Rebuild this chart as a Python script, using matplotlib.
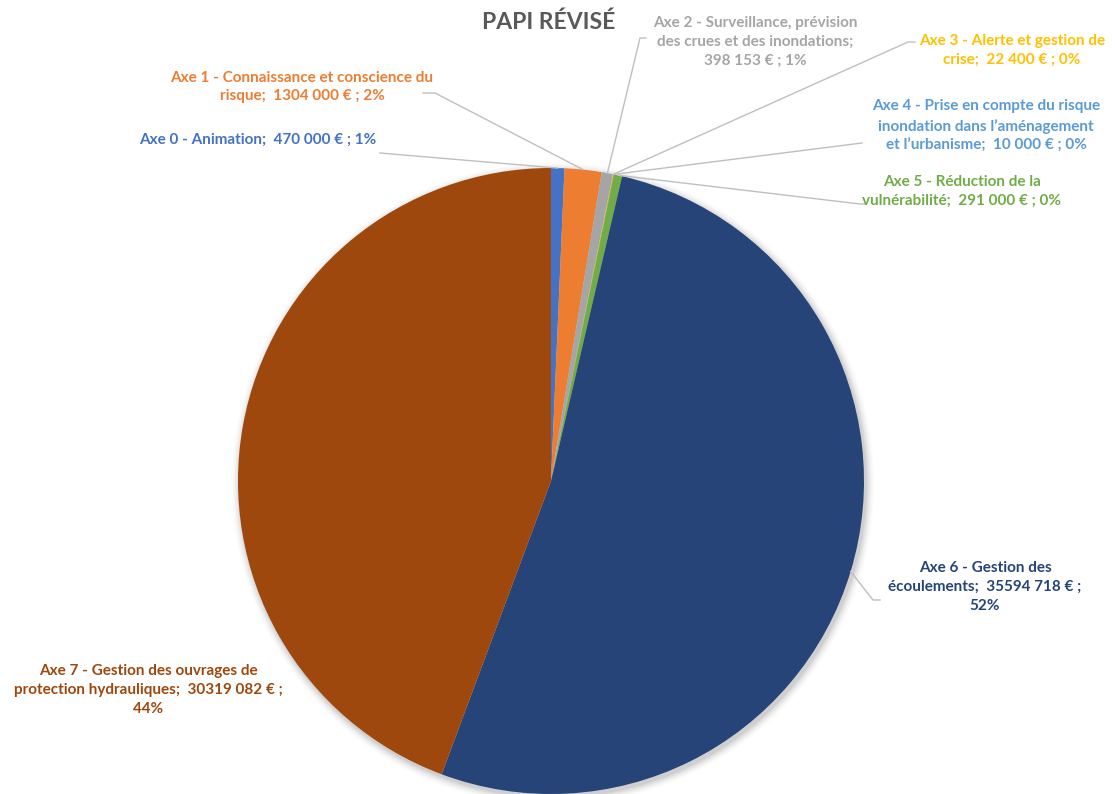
import matplotlib
matplotlib.use("Agg")
import matplotlib.pyplot as plt
import numpy as np

labels = [
    "Axe 0 - Animation;  470 000 € ; 1%",
    "Axe 1 - Connaissance et conscience du\nrisque;  1304 000 € ; 2%",
    "Axe 2 - Surveillance, prévision\ndes crues et des inondations;\n398 153 € ; 1%",
    "Axe 3 - Alerte et gestion de\ncrise;  22 400 € ; 0%",
    "Axe 4 - Prise en compte du risque\ninondation dans l’aménagement\net l’urbanisme;  10 000 € ; 0%",
    "Axe 5 - Réduction de la\nvulnérabilité;  291 000 € ; 0%",
    "Axe 6 - Gestion des\nécoulements;  35594 718 € ;\n52%",
    "Axe 7 - Gestion des ouvrages de\nprotection hydrauliques;  30319 082 € ;\n44%",
]
values = [470000, 1304000, 398153, 22400, 10000, 291000, 35594718, 30319082]
colors = ["#4472C4", "#ED7D31", "#A5A5A5", "#FFC000", "#5B9BD5", "#70AD47", "#264478", "#9E480E"]
text_colors = ["#4472C4", "#ED7D31", "#A5A5A5", "#FFC000", "#5B9BD5", "#70AD47", "#264478", "#9E480E"]

W, H = 1115, 794
fig = plt.figure(figsize=(W / 100, H / 100), dpi=100)
ax = fig.add_axes([0, 0, 1, 1])

cx, cy, R = 551, H - 481, 313

# soft shadow
for i, a in enumerate(np.linspace(0.05, 0.01, 6)):
    ax.add_patch(plt.Circle((cx + 2, cy - 3), R + 1 + i * 1.5, color="black", alpha=a, lw=0, zorder=0))

wedges, _ = ax.pie(values, colors=colors, startangle=90, counterclock=False,
                   center=(cx, cy), radius=R, frame=True,
                   wedgeprops=dict(linewidth=0, antialiased=True))
ax.set_xlim(0, W)
ax.set_ylim(0, H)
ax.set_aspect("equal")
ax.axis("off")

# label layout (pixel positions, y from top)
pos = [(258, 140), (302, 87), (755, 42), (1012, 50), (986, 126), (962, 191), (985, 587), (148, 690)]
# leader line end near label (pixel, y from top); None = no line
elbow = [[(380, 153)], [(423, 93), (435, 93)], [(646, 38), (640, 38)], [(915, 42), (908, 42)],
         [(862, 143)], [(866, 204), (860, 204)], [(880, 600), (873, 600)], None]

for i, w in enumerate(wedges):
    x, y = pos[i]
    ax.text(x, H - y, labels[i], ha="center", va="center", color=text_colors[i],
            fontsize=11, fontweight="bold", family=["Lato", "DejaVu Sans"], linespacing=1.45, zorder=5)
    if elbow[i] is None:
        continue
    th = np.deg2rad((w.theta1 + w.theta2) / 2)
    ex, ey = cx + R * np.cos(th), cy + R * np.sin(th)
    pts = [(px, H - py) for px, py in elbow[i]] + [(ex, ey)]
    xs, ys = zip(*pts)
    ax.plot(xs, ys, color="#BFBFBF", lw=1, zorder=4)

ax.text(549, H - 22, "PAPI RÉVISÉ", ha="center", va="center", color="#595959",
        fontsize=16.5, fontweight="bold", family=["Lato", "DejaVu Sans"])

fig.savefig("out.png", dpi=100)
